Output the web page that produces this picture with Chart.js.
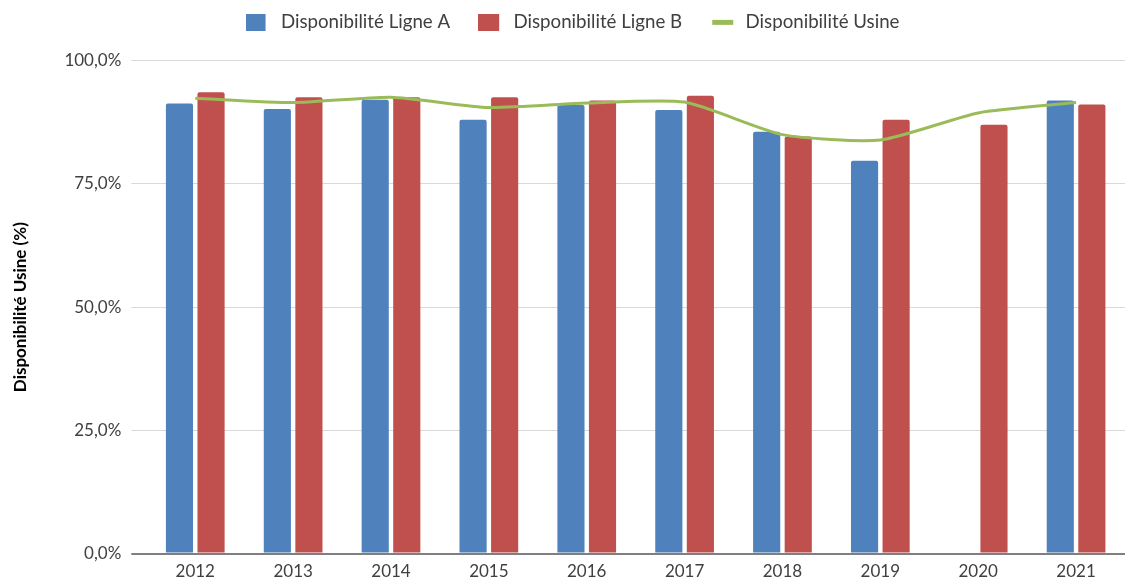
<!DOCTYPE html>
<html>
<head>
<meta charset="utf-8">
<script src="https://cdn.jsdelivr.net/npm/chart.js@4/dist/chart.umd.min.js"></script>
<style>
html,body{margin:0;padding:0;background:#fff;}
#wrap{width:1132px;height:579px;position:relative;}
</style>
</head>
<body>
<div id="wrap"><canvas id="c" width="1132" height="579"></canvas></div>
<script>
const years = ['2012','2013','2014','2015','2016','2017','2018','2019','2020','2021'];
const ligneA = [91.3, 90.2, 92.1, 88.0, 91.0, 90.0, 85.6, 79.7, null, 91.9];
const ligneB = [93.6, 92.6, 92.6, 92.6, 91.9, 92.9, 84.6, 88.0, 87.0, 91.1];
const usine  = [92.4, 91.5, 92.6, 90.5, 91.4, 91.6, 85.0, 83.9, 89.4, 91.5];
const yTicks = [0, 25, 50, 75, 100];

const fontFam = 'Lato, "Open Sans", sans-serif';
Chart.defaults.font.family = fontFam;
Chart.defaults.color = '#404040';

function marker(color, w, h, x0, mw, mh){
  const c = document.createElement('canvas');
  c.width = w; c.height = h;
  const g = c.getContext('2d');
  g.fillStyle = color;
  g.fillRect(x0, (h - mh) / 2, mw, mh);
  return c;
}
const mkA = marker('#4f81bd', 26, 17, 0, 20, 17);
const mkB = marker('#c0504d', 26, 17, 0, 21, 17);
const mkU = marker('#9bbb59', 26, 17, 2, 21, 5);

const legendTweak = {
  id:'legendTweak',
  beforeUpdate(chart){
    const lg = chart.legend;
    if (lg && !lg._patched){
      const f = lg.fit;
      lg.fit = function(){ f.call(this); this.height += 19; };
      lg._patched = true;
    }
  },
  afterLayout(chart){
    const lg = chart.legend;
    if (lg){ lg.left += 10; lg.right += 10; }
  }
};

new Chart(document.getElementById('c'), {
  data: {
    labels: years,
    datasets: [
      {type:'line', label:'Disponibilité Usine', data: usine, borderColor:'#9bbb59', backgroundColor:'#9bbb59',
       borderWidth:3, pointRadius:0, tension:0.2, order:0, pointStyle: mkU},
      {type:'bar', label:'Disponibilité Ligne A', data: ligneA, backgroundColor:'#4f81bd', borderRadius:2,
       barPercentage:0.86, categoryPercentage:0.645, order:1, pointStyle: mkA},
      {type:'bar', label:'Disponibilité Ligne B', data: ligneB, backgroundColor:'#c0504d', borderRadius:2,
       barPercentage:0.86, categoryPercentage:0.645, order:2, pointStyle: mkB}
    ]
  },
  plugins:[legendTweak],
  options: {
    responsive:false,
    animation:false,
    layout:{padding:{left:0, right:7, top:-15, bottom:-3}},
    plugins:{
      legend:{
        position:'top',
        labels:{
          usePointStyle:true,
          pointStyleWidth:26,
          boxHeight:17,
          font:{size:18.7},
          color:'#404040',
          padding:28,
          sort:(a,b)=>{const o={'Disponibilité Ligne A':0,'Disponibilité Ligne B':1,'Disponibilité Usine':2};return o[a.text]-o[b.text];}
        }
      },
      tooltip:{enabled:false}
    },
    scales:{
      x:{
        grid:{display:false},
        border:{display:false},
        ticks:{font:{size:17}, color:'#404040', padding:0}
      },
      y:{
        min:0, max:100,
        afterBuildTicks:(s)=>{s.ticks = yTicks.map(v=>({value:v}));},
        grid:{
          color:(ctx)=> (ctx.tick && ctx.tick.value===0) ? '#7f7f7f' : '#d9d9d9',
          lineWidth:(ctx)=> (ctx.tick && ctx.tick.value===0) ? 2 : 1,
          tickLength:15
        },
        border:{display:false},
        ticks:{
          font:{size:17}, color:'#404040', padding:10,
          callback:(v)=> v.toFixed(1).replace('.',',') + '%'
        },
        title:{display:true, text:'Disponibilité Usine (%)', font:{size:17, weight:'bold'}, color:'#000', padding:{top:10,bottom:24}}
      }
    }
  }
});
</script>
</body>
</html>
